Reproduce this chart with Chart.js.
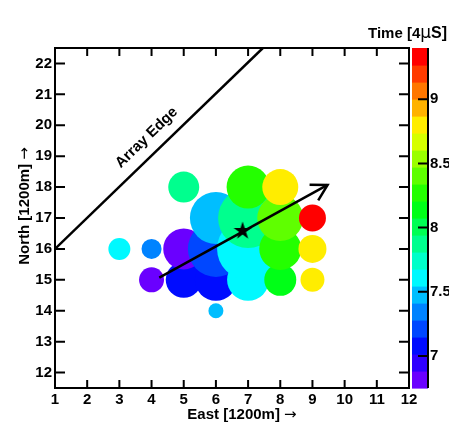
<!DOCTYPE html>
<html>
<head>
<meta charset="utf-8">
<title>Shower footprint</title>
<script src="https://cdn.jsdelivr.net/npm/chart.js@4.4.1/dist/chart.umd.min.js"></script>
<style>
  body { margin: 0; background: #fff; }
  canvas { display: block; }
</style>
</head>
<body>
<canvas id="myChart" width="449" height="422"></canvas>
<script>
// stations, sorted by east then north (drawing order matters for overlaps)
const stationEast   = [3, 4, 4, 5, 5, 5, 6, 6, 6, 6, 7, 7, 7, 7, 8, 8, 8, 8, 9, 9, 9];
const stationNorth  = [16, 15, 16, 15, 16, 18, 14, 15, 16, 17, 15, 16, 17, 18, 15, 16, 17, 18, 15, 16, 17];
// arrival time [4 us]
const stationTime   = [7.61, 6.82, 7.35, 7.08, 6.82, 7.88, 7.48, 7.08, 7.21, 7.48, 7.61, 7.61, 7.88, 8.27, 8.14, 8.27, 8.41, 8.80, 8.80, 8.80, 9.33];
// signal, shown as bubble radius
const stationSignal = [11, 12.5, 10, 18, 20.5, 15.5, 7.5, 21, 28, 26, 21, 31, 30, 21.5, 16, 21, 23, 18, 12, 14, 13.5];

const xTicks = [1, 2, 3, 4, 5, 6, 7, 8, 9, 10, 11, 12];
const yTicks = [12, 13, 14, 15, 16, 17, 18, 19, 20, 21, 22];
const cbTicks = [7, 7.5, 8, 8.5, 9];

const edgeLine = [[1, 16], [7.46, 22.5]];
const showerAxis = [[4.24, 15.07], [9.47, 18.07]];
const showerCore = [6.83, 16.58];
const edgeLabelAt = [3.85, 19.6];

const CB_MIN = 6.75, CB_MAX = 9.40, N_BANDS = 20;
const BOLD = "bold 15px 'Liberation Sans', Arial, sans-serif";
const THIN = "15px 'DejaVu Sans', 'Liberation Sans', sans-serif";

Chart.defaults.font.family = "'Liberation Sans', Arial, sans-serif";
Chart.defaults.color = '#000';

function bandColor(i) {
    var hue = 265 * (1 - i / (N_BANDS - 1));
    return 'hsl(' + hue.toFixed(1) + ',100%,50%)';
}
function timeColor(t) {
    var i = Math.floor((t - CB_MIN) / (CB_MAX - CB_MIN) * N_BANDS);
    return bandColor(Math.max(0, Math.min(N_BANDS - 1, i)));
}

// filled five point star used as point style
const star = document.createElement('canvas');
star.width = star.height = 20;
(function () {
    var s = star.getContext('2d');
    s.beginPath();
    for (var k = 0; k < 10; k++) {
        var r = k % 2 ? 3.6 : 9.5;
        var a = -Math.PI / 2 + k * Math.PI / 5;
        s.lineTo(10 + r * Math.cos(a), 10 + r * Math.sin(a));
    }
    s.closePath();
    s.fillStyle = '#000';
    s.fill();
})();

function drawRich(c, parts, x, y, align) {
    var w = 0;
    parts.forEach(function (p) { c.font = p[1]; w += c.measureText(p[0]).width; });
    var cx = align === 'center' ? x - w / 2 : x;
    c.textAlign = 'left';
    c.textBaseline = 'middle';
    parts.forEach(function (p) {
        c.font = p[1];
        c.fillText(p[0], cx, y);
        cx += c.measureText(p[0]).width;
    });
}

const decorations = {
    id: 'decorations',
    beforeDatasetsDraw(chart) {
        const c = chart.ctx, cb = chart.scales.cb, a = chart.chartArea;
        const step = (CB_MAX - CB_MIN) / N_BANDS;
        for (let i = 0; i < N_BANDS; i++) {
            const yLo = cb.getPixelForValue(CB_MIN + i * step);
            const yHi = cb.getPixelForValue(CB_MIN + (i + 1) * step);
            c.fillStyle = bandColor(i);
            c.fillRect(a.right + 3, yHi, 16, yLo - yHi + 0.6);
        }
    },
    afterDatasetsDraw(chart) {
        const c = chart.ctx, xs = chart.scales.x, ys = chart.scales.y;
        // arrow head
        const x0 = xs.getPixelForValue(showerAxis[0][0]), y0 = ys.getPixelForValue(showerAxis[0][1]);
        const x1 = xs.getPixelForValue(showerAxis[1][0]), y1 = ys.getPixelForValue(showerAxis[1][1]);
        const ang = Math.atan2(y1 - y0, x1 - x0);
        c.save();
        c.strokeStyle = '#000';
        c.lineWidth = 2.5;
        c.beginPath();
        c.moveTo(x1 + 18 * Math.cos(ang + Math.PI - 0.52), y1 + 18 * Math.sin(ang + Math.PI - 0.52));
        c.lineTo(x1, y1);
        c.lineTo(x1 + 18 * Math.cos(ang + Math.PI + 0.52), y1 + 18 * Math.sin(ang + Math.PI + 0.52));
        c.stroke();
        // array edge label
        const ea = Math.atan2(ys.getPixelForValue(edgeLine[1][1]) - ys.getPixelForValue(edgeLine[0][1]),
                              xs.getPixelForValue(edgeLine[1][0]) - xs.getPixelForValue(edgeLine[0][0]));
        c.translate(xs.getPixelForValue(edgeLabelAt[0]), ys.getPixelForValue(edgeLabelAt[1]));
        c.rotate(ea);
        c.fillStyle = '#000';
        c.font = BOLD;
        c.textAlign = 'center';
        c.textBaseline = 'middle';
        c.fillText('Array Edge', 0, 0);
        c.restore();
    },
    afterDraw(chart) {
        const c = chart.ctx, a = chart.chartArea, xs = chart.scales.x, ys = chart.scales.y, cb = chart.scales.cb;
        c.save();
        c.strokeStyle = '#000';
        c.lineWidth = 2;
        c.strokeRect(a.left, a.top, a.right - a.left, a.bottom - a.top);
        c.beginPath();
        xTicks.forEach(function (v) {
            const px = xs.getPixelForValue(v);
            c.moveTo(px, a.bottom); c.lineTo(px, a.bottom - 8);
            c.moveTo(px, a.top); c.lineTo(px, a.top + 8);
        });
        yTicks.forEach(function (v) {
            const py = ys.getPixelForValue(v);
            c.moveTo(a.left, py); c.lineTo(a.left + 10, py);
            c.moveTo(a.right, py); c.lineTo(a.right - 10, py);
        });
        const cbR = a.right + 19;
        cbTicks.forEach(function (v) {
            const py = cb.getPixelForValue(v);
            c.moveTo(cbR, py); c.lineTo(cbR - 10, py);
        });
        c.moveTo(cbR, a.top); c.lineTo(cbR, a.bottom);
        c.stroke();

        c.fillStyle = '#000';
        drawRich(c, [['East [1200m] ', BOLD], ['\u2192', THIN]], (a.left + a.right) / 2 + 10, a.bottom + 27, 'center');
        c.save();
        c.translate(25, (a.top + a.bottom) / 2 - 12);
        c.rotate(-Math.PI / 2);
        drawRich(c, [['North [1200m] ', BOLD], ['\u2192', THIN]], 0, 0, 'center');
        c.restore();
        drawRich(c, [['Time [4', BOLD], ['\u03bc', "17px 'DejaVu Sans', sans-serif"], ['S]', "bold 16px 'Liberation Sans', Arial, sans-serif"]], a.right - 41, a.top - 14, 'left');
        c.restore();
    }
};

const bubbles = stationEast.map(function (e, i) {
    return { x: e, y: stationNorth[i], r: stationSignal[i] };
});

new Chart(document.getElementById('myChart'), {
    type: 'bubble',
    data: {
        datasets: [
            {
                type: 'line', order: 0,
                data: showerAxis.map(p => ({ x: p[0], y: p[1] })),
                borderColor: '#000', borderWidth: 2.5, pointRadius: 0, fill: false
            },
            {
                type: 'scatter', order: 0,
                data: [{ x: showerCore[0], y: showerCore[1] }],
                pointStyle: star, pointRadius: 9
            },
            {
                type: 'line', order: 1,
                data: edgeLine.map(p => ({ x: p[0], y: p[1] })),
                borderColor: '#000', borderWidth: 2.5, pointRadius: 0, fill: false
            },
            {
                order: 5,
                data: bubbles,
                backgroundColor: stationTime.map(timeColor),
                borderWidth: 0
            }
        ]
    },
    options: {
        responsive: false,
        animation: false,
        events: [],
        layout: { padding: { top: 48, left: 0, right: 0, bottom: 0 } },
        plugins: { legend: { display: false }, tooltip: { enabled: false } },
        scales: {
            x: {
                type: 'linear', position: 'bottom', min: 1, max: 12,
                afterBuildTicks: s => { s.ticks = xTicks.map(v => ({ value: v })); },
                afterFit: s => { s.height = 34; },
                ticks: { font: { size: 15, weight: 'bold' }, padding: 3, maxRotation: 0, callback: v => String(v) },
                grid: { display: false, drawTicks: false },
                border: { display: false }
            },
            y: {
                type: 'linear', position: 'left', min: 11.5, max: 22.5,
                afterBuildTicks: s => { s.ticks = yTicks.map(v => ({ value: v })); },
                afterFit: s => { s.width = 55; },
                ticks: { font: { size: 15, weight: 'bold' }, padding: 3, callback: v => String(v) },
                grid: { display: false, drawTicks: false },
                border: { display: false }
            },
            cb: {
                type: 'linear', axis: 'y', position: 'right', min: CB_MIN, max: CB_MAX,
                afterBuildTicks: s => { s.ticks = cbTicks.map(v => ({ value: v })); },
                afterFit: s => { s.width = 40; },
                ticks: { font: { size: 15, weight: 'bold' }, padding: 21, callback: v => String(v) },
                grid: { display: false, drawTicks: false },
                border: { display: false }
            }
        }
    },
    plugins: [decorations]
});
</script>
</body>
</html>
